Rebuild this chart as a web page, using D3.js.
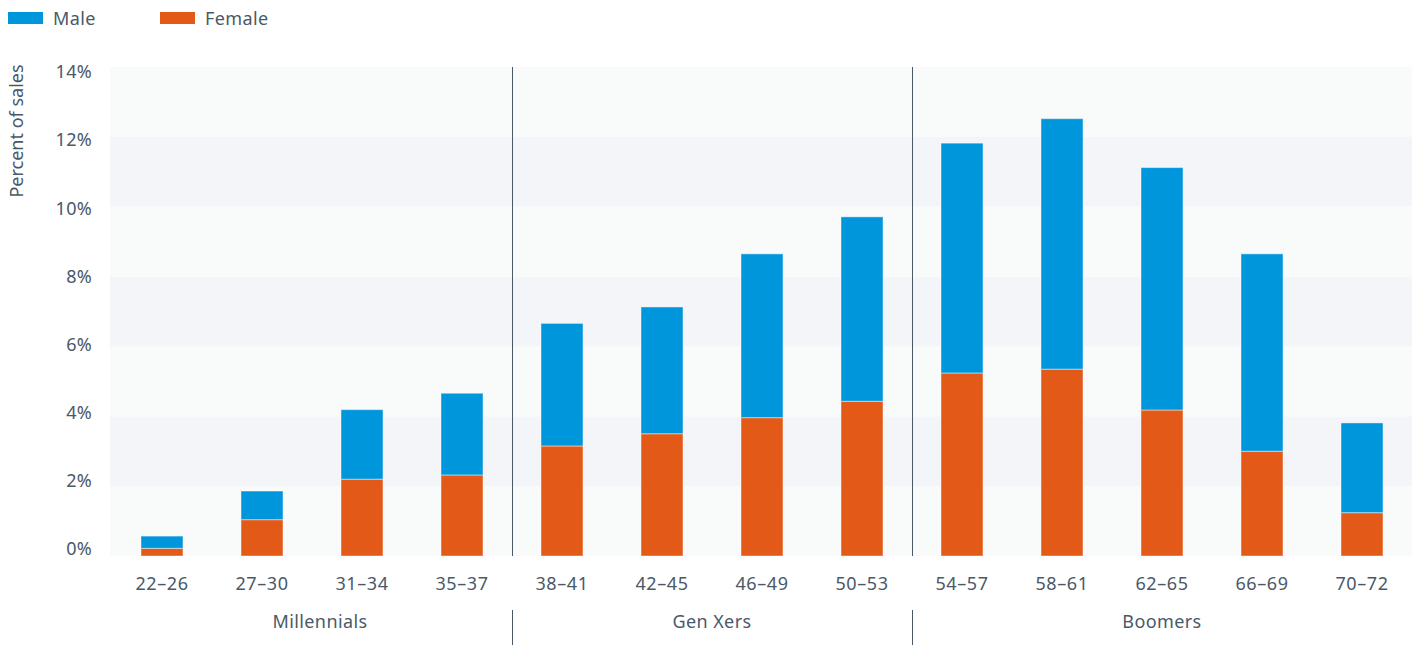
<!DOCTYPE html>
<html>
<head>
<meta charset="utf-8">
<script src="https://cdn.jsdelivr.net/npm/d3@7"></script>
<style>
  html, body { margin: 0; padding: 0; background: #ffffff; }
  svg { display: block; }
  text { font-family: "Noto Sans", "Open Sans", sans-serif; fill: #4a5968; }
</style>
</head>
<body>
<svg id="chart" width="1416" height="645"></svg>
<script>
const categories = ["22–26","27–30","31–34","35–37","38–41","42–45","46–49","50–53","54–57","58–61","62–65","66–69","70–72"];
const groupOf    = ["Millennials","Millennials","Millennials","Millennials","Gen Xers","Gen Xers","Gen Xers","Gen Xers","Boomers","Boomers","Boomers","Boomers","Boomers"];
const groups     = ["Millennials","Gen Xers","Boomers"];
const femaleVals = [0.22, 1.04, 2.20, 2.32, 3.15, 3.50, 3.96, 4.43, 5.24, 5.35, 4.18, 3.00, 1.24];
const totalVals  = [0.57, 1.86, 4.19, 4.66, 6.66, 7.13, 8.65, 9.71, 11.82, 12.52, 11.12, 8.65, 3.81];
const maleVals   = totalVals.map((t, i) => +(t - femaleVals[i]).toFixed(2));
const yTicks     = [0, 2, 4, 6, 8, 10, 12, 14];
const seriesNames = ["Male", "Female"];

const colors = { Male: "#0096db", Female: "#e35a18" };

const svg = d3.select("#chart");
const plot = { left: 110, right: 1412, top: 67, bottom: 556 };

const x = d3.scaleBand().domain(categories).range([112, 1412]).paddingInner(0.58).paddingOuter(0.29);
const y = d3.scaleLinear().domain([0, 14]).range([plot.bottom, plot.top]);
// tick labels sit on a slightly compressed scale in the reference
const yLabel = d3.scaleLinear().domain([0, 14]).range([549, 72]);

// background stripes
const stripes = d3.range(yTicks.length - 1).map(i => ({ lo: yTicks[i], hi: yTicks[i + 1], odd: i % 2 === 1 }));
svg.append("g").selectAll("rect").data(stripes).join("rect")
  .attr("x", plot.left).attr("width", plot.right - plot.left)
  .attr("y", d => y(d.hi)).attr("height", d => y(d.lo) - y(d.hi))
  .attr("fill", d => d.odd ? "#f4f5f9" : "#f9fafa");

// stacked data
const rows = categories.map((c, i) => ({ cat: c, Female: femaleVals[i], Male: maleVals[i] }));
const stack = d3.stack().keys(["Female", "Male"])(rows);

svg.append("g").selectAll("g").data(stack).join("g")
  .attr("fill", d => colors[d.key])
  .selectAll("rect").data(d => d).join("rect")
  .attr("x", d => x(d.data.cat))
  .attr("width", x.bandwidth())
  .attr("y", d => y(d[1]))
  .attr("height", d => y(d[0]) - y(d[1]))
  .attr("stroke", "rgba(255,255,255,0.45)")
  .attr("stroke-width", 1);

// y axis
const yAxis = d3.axisLeft(yLabel).tickValues(yTicks).tickFormat(d => d + "%").tickSize(0).tickPadding(0);
const yg = svg.append("g").attr("transform", "translate(92,0)").call(yAxis);
yg.select(".domain").remove();
yg.selectAll("text").style("font-size", "18px").style("letter-spacing", "0.3px").attr("fill", "#4a5968").style("font-family", "'Noto Sans', sans-serif");

svg.append("text")
  .attr("transform", "translate(23,131) rotate(-90)")
  .attr("text-anchor", "middle")
  .style("font-size", "18px")
  .text("Percent of sales");

// x axis
const xAxis = d3.axisBottom(x).tickSize(0).tickPadding(0);
const xg = svg.append("g").attr("transform", "translate(0,577)").call(xAxis);
xg.select(".domain").remove();
xg.selectAll("text").style("font-size", "18px").style("letter-spacing", "0.6px").attr("fill", "#4a5968").style("font-family", "'Noto Sans', sans-serif");

// group dividers and labels
const step = x.step();
const groupExtents = groups.map(g => {
  const idx = categories.map((c, i) => i).filter(i => groupOf[i] === g);
  const first = categories[idx[0]], last = categories[idx[idx.length - 1]];
  return { name: g, x0: x(first) - x.paddingInner() * step / 2, x1: x(last) + x.bandwidth() + x.paddingInner() * step / 2 };
});
groupExtents.forEach((ge, i) => {
  if (i > 0) {
    const xs = Math.round(ge.x0) + 0.5;
    svg.append("line").attr("x1", xs).attr("x2", xs).attr("y1", plot.top).attr("y2", plot.bottom)
      .attr("stroke", "#4a5968").attr("stroke-width", 1);
    svg.append("line").attr("x1", xs).attr("x2", xs).attr("y1", 610).attr("y2", 645)
      .attr("stroke", "#4a5968").attr("stroke-width", 1);
  }
  const lx0 = i === 0 ? 128 : ge.x0;
  svg.append("text")
    .attr("x", (lx0 + ge.x1) / 2).attr("y", 628)
    .attr("text-anchor", "middle").style("font-size", "18px").style("letter-spacing", "0.4px")
    .text(ge.name);
});

// legend
const legend = svg.append("g");
seriesNames.forEach((s, i) => {
  const lx = 8 + i * 152;
  legend.append("rect").attr("x", lx).attr("y", 12).attr("width", 35).attr("height", 12).attr("fill", colors[s]);
  legend.append("text").attr("x", lx + 45).attr("y", 24.5).style("font-size", "18px").style("letter-spacing", "0.4px").text(s);
});
</script>
</body>
</html>
